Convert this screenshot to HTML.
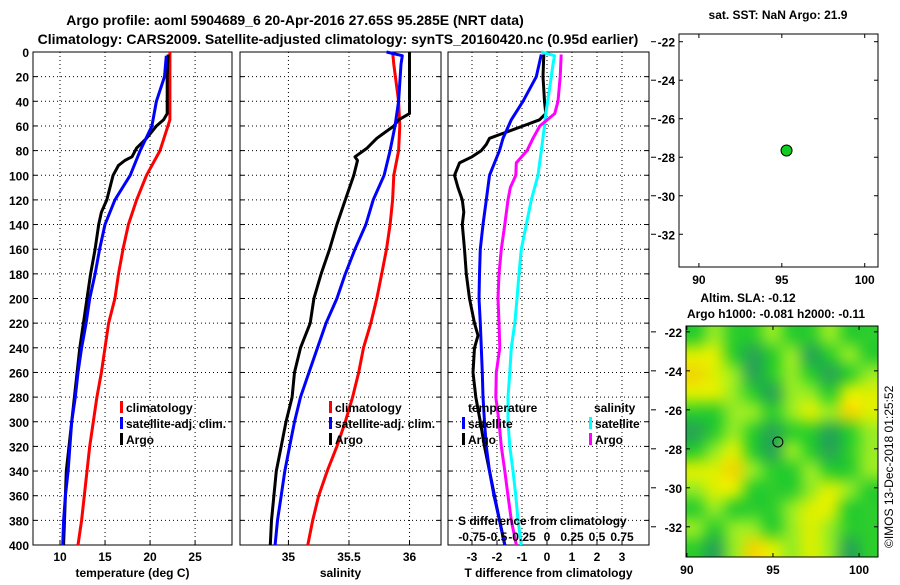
<!DOCTYPE html>
<html><head><meta charset="utf-8"><style>
body{margin:0;background:#fff;}
svg text{font-family:"Liberation Sans",Arial,sans-serif;}
.b{font-weight:bold;}
</style></head><body>
<svg id="c" width="900" height="580" viewBox="0 0 900 580" xmlns="http://www.w3.org/2000/svg">
<text class="b" x="295" y="25" font-size="14" text-anchor="middle">Argo profile: aoml 5904689_6 20-Apr-2016 27.65S 95.285E (NRT data)</text>
<text class="b" x="338" y="44" font-size="14" text-anchor="middle">Climatology: CARS2009. Satellite-adjusted climatology: synTS_20160420.nc (0.95d earlier)</text>
<g id="plots"></g>
<foreignObject x="686" y="326" width="192" height="231"><canvas id="sla" width="192" height="231" xmlns="http://www.w3.org/1999/xhtml" style="display:block"></canvas></foreignObject>
<g id="maps"></g>
<text x="0" y="0" font-size="12" transform="translate(893,548) rotate(-90)">©IMOS 13-Dec-2018 01:25:52</text>
</svg>
<script>
// ---- data ----
const depths=[0,20,40,60,80,100,120,140,160,180,200,220,240,260,280,300,320,340,360,380,400];
const tClimDepth=[0,55,80,100,120,140,160,180,200,220,240,260,280,300,320,340,360,380,400];
const tClim=[22.2,22.2,21.1,19.6,18.5,17.6,17.0,16.5,16.1,15.4,15.0,14.6,14.1,13.7,13.3,13.0,12.7,12.4,12.0];
const tSatDepth=[3,20,40,60,80,100,120,140,160,180,200,220,240,260,280,300,320,340,360,380,400];
const tSat=[21.8,21.6,20.7,20.2,18.9,17.8,16.1,15.0,14.4,13.9,13.3,12.9,12.4,12.0,11.7,11.3,11.1,10.9,10.6,10.4,10.3];
const tArgoDepth=[2,20,50,55,60,70,78,85,88,92,100,120,130,140,160,180,200,220,240,260,280,300,320,340,360,380,400];
const tArgo=[22.0,21.9,21.9,21.5,20.7,19.6,18.5,18.0,17.2,16.5,15.9,15.2,14.6,14.3,13.9,13.4,13.0,12.6,12.2,11.9,11.6,11.3,11.0,10.7,10.6,10.5,10.4];
const sClimDepth=[0,10,40,60,80,100,120,140,160,180,200,220,240,260,280,300,320,340,360,380,400];
const sClim=[35.86,35.87,35.91,35.92,35.91,35.87,35.86,35.84,35.81,35.77,35.73,35.68,35.62,35.58,35.53,35.47,35.40,35.32,35.25,35.20,35.16];
const sSatDepth=[0,3,10,40,60,80,100,120,140,160,180,200,220,240,260,280,300,320,340,360,380,400];
const sSat=[35.81,35.94,35.93,35.91,35.88,35.84,35.79,35.70,35.64,35.55,35.47,35.40,35.31,35.24,35.17,35.10,35.05,35.01,34.97,34.94,34.91,34.89];
const sArgoDepth=[0,50,55,60,65,70,78,85,88,100,120,140,160,180,200,220,240,260,280,300,320,340,360,380,400];
const sArgo=[36.0,36.0,35.91,35.87,35.80,35.73,35.65,35.55,35.57,35.54,35.47,35.40,35.34,35.27,35.21,35.18,35.10,35.05,35.03,34.98,34.94,34.90,34.88,34.86,34.85];
const dTSatDepth=[2,20,40,55,70,80,100,120,140,160,180,200,220,240,260,280,300,320,340,360,380,400];
const dTSat=[-0.23,-0.43,-0.96,-1.43,-1.76,-1.9,-2.3,-2.43,-2.56,-2.67,-2.7,-2.72,-2.67,-2.63,-2.59,-2.56,-2.5,-2.43,-2.3,-2.12,-1.9,-1.69];
const dTArgoDepth=[2,20,40,50,55,60,65,70,75,80,85,90,100,110,120,130,140,160,180,200,220,230,240,260,280,300,320,340,360,380,400];
const dTArgo=[-0.13,-0.16,-0.1,-0.05,-0.3,-0.96,-1.63,-2.3,-2.43,-2.63,-3.0,-3.5,-3.7,-3.56,-3.39,-3.33,-3.39,-3.3,-3.23,-3.1,-2.9,-2.76,-2.9,-2.96,-2.85,-2.67,-2.5,-2.3,-2.1,-1.9,-1.69];
const dSSatDepth=[0,3,10,30,50,60,80,100,120,140,160,180,200,220,240,260,280,300,320,340,360,380,400];
const dSSat=[-0.057,0.075,0.06,0.025,-0.012,-0.025,-0.057,-0.09,-0.157,-0.207,-0.257,-0.28,-0.3,-0.322,-0.357,-0.372,-0.39,-0.39,-0.372,-0.34,-0.312,-0.29,-0.257];
const dSArgoDepth=[2,20,40,50,60,70,80,90,100,110,120,140,160,180,200,220,240,260,280,300,320,340,360,380,400];
const dSArgo=[0.142,0.132,0.11,0.077,-0.072,-0.14,-0.2,-0.307,-0.312,-0.367,-0.39,-0.422,-0.457,-0.48,-0.49,-0.48,-0.472,-0.507,-0.512,-0.48,-0.457,-0.422,-0.39,-0.357,-0.307];
const tTicks=[10,15,20,25];
const sTicks=[35,35.5,36];
const dTTicks=[-3,-2,-1,0,1,2,3];
const dSTicks=["-0.75","-0.5","-0.25","0","0.25","0.5","0.75"];
const dSTickVals=[-0.75,-0.5,-0.25,0,0.25,0.5,0.75];
const latTicks=[-22,-24,-26,-28,-30,-32];
const lonTicks=[90,95,100];
const argoLon=95.285, argoLat=-27.65;
const slaGrid=[
[1,2,1,1,2,1,1,2,1,1],
[3,3,1,0,1,2,0,1,2,1],
[4,3,2,0,1,2,1,0,1,2],
[3,3,2,1,0,2,2,1,3,3],
[1,1,2,2,1,2,3,2,4,3],
[0,1,2,1,0,1,1,0,1,2],
[1,2,3,1,0,2,1,0,1,2],
[3,3,4,2,1,1,2,1,1,2],
[2,3,3,1,1,1,2,3,2,1],
[1,2,1,1,1,2,3,3,1,1],
[2,1,2,2,1,2,3,2,1,1],
[1,0,2,4,3,2,3,2,0,1]];
const slaColors=[[40,165,85],[45,205,45],[150,235,35],[220,240,0],[240,215,0]];
// ---- drawing ----
const NS="http://www.w3.org/2000/svg";
const plots=document.getElementById('plots'), maps=document.getElementById('maps');
function el(p,tag,a){const e=document.createElementNS(NS,tag);for(const k in a)e.setAttribute(k,a[k]);p.appendChild(e);return e;}
function txt(p,x,y,s,sz,anc,bold){const t=el(p,'text',{x:x,y:y,'font-size':sz,'text-anchor':anc||'middle'});if(bold!==false)t.setAttribute('class','b');t.textContent=s;return t;}
const Y0=52,Y1=545;
const yD=d=>Y0+(d/400)*(Y1-Y0);
function panel(name,x0,x1,v0,v1,ticks,labels,xlabel){
  const g=el(plots,'g',{});
  
  
  const sx=v=>x0+(v-v0)/(v1-v0)*(x1-x0);
  for(const d of depths){if(d>0&&d<400){const l=el(g,'line',{x1:x0,x2:x1,y1:yD(d),y2:yD(d),stroke:'#000','stroke-width':1,'stroke-dasharray':'1,3'});}
    el(g,'line',{x1:x0,x2:x0+4,y1:yD(d),y2:yD(d),stroke:'#000'});el(g,'line',{x1:x1-4,x2:x1,y1:yD(d),y2:yD(d),stroke:'#000'});}
  ticks.forEach((v,i)=>{const l=el(g,'line',{x1:sx(v),x2:sx(v),y1:Y0,y2:Y1,stroke:'#000','stroke-dasharray':'1,3'});
    el(g,'line',{x1:sx(v),x2:sx(v),y1:Y1-4,y2:Y1,stroke:'#000'});
    const t=txt(g,sx(v),Y1+16,labels[i],12);});
  const r=el(g,'rect',{x:x0,y:Y0,width:x1-x0,height:Y1-Y0,fill:'none',stroke:'#000'});
  
  const xl=txt(g,(x0+x1)/2,Y1+32,xlabel,12);
  return {g,sx};
}
function line(P,ds,vs,col,nm){const pts=ds.map((d,i)=>P.sx(vs[i]).toFixed(1)+','+yD(d).toFixed(1)).join(' ');
  const l=el(P.g,'polyline',{points:pts,fill:'none',stroke:col,'stroke-width':3,'stroke-linejoin':'round'});
  }
function legend(g,x,y,items){items.forEach((it,i)=>{el(g,'rect',{x:x,y:y+i*16-11,width:3,height:12,fill:it[0]});const t=txt(g,x+6,y+i*16,it[1],12,'start');});}
depths.forEach(d=>{const t=txt(plots,29,yD(d)+5,String(d),12,'end');});
const P1=panel('temperature-panel',33,232,7,29.1,tTicks,tTicks.map(String),'temperature (deg C)');
line(P1,tClimDepth,tClim,'#f00','temp-climatology-line');
line(P1,tArgoDepth,tArgo,'#000','temp-argo-line');
line(P1,tSatDepth,tSat,'#00f','temp-satellite-line');
legend(P1.g,120,412,[['#f00','climatology'],['#00f','satellite-adj. clim.'],['#000','Argo']]);
const P2=panel('salinity-panel',240,441,34.6,36.26,sTicks,sTicks.map(String),'salinity');
line(P2,sClimDepth,sClim,'#f00','sal-climatology-line');
line(P2,sArgoDepth,sArgo,'#000','sal-argo-line');
line(P2,sSatDepth,sSat,'#00f','sal-satellite-line');
legend(P2.g,329,412,[['#f00','climatology'],['#00f','satellite-adj. clim.'],['#000','Argo']]);
const P3=panel('difference-panel',448,649,-3.96,4.08,dTTicks,dTTicks.map(String),'T difference from climatology');
line(P3,dTArgoDepth,dTArgo,'#000','dT-argo-line');
line(P3,dTSatDepth,dTSat,'#00f','dT-satellite-line');
line(P3,dSSatDepth,dSSat.map(v=>v*4),'#0ff','dS-satellite-line');
line(P3,dSArgoDepth,dSArgo.map(v=>v*4),'#f0f','dS-argo-line');
txt(P3.g,468,412,'temperature',12,'start');
txt(P3.g,594,412,'salinity',12,'start');
legend(P3.g,462,428,[['#00f','satellite'],['#000','Argo']]);
legend(P3.g,589,428,[['#0ff','satellite'],['#f0f','Argo']]);
const st=txt(P3.g,458,525,'S difference from climatology',12,'start');
dSTickVals.forEach((v,i)=>{const t=txt(P3.g,P3.sx(v*4),541,dSTicks[i],12);});
function map(name,x0,x1,y0,y1,lon0,lon1,lat0,lat1){
  const g=el(maps,'g',{});
  
  
  const sx=v=>x0+(v-lon0)/(lon1-lon0)*(x1-x0), sy=v=>y0+(lat0-v)/(lat0-lat1)*(y1-y0);
  el(g,'rect',{x:x0,y:y0,width:x1-x0,height:y1-y0,fill:'none',stroke:'#000'});
  latTicks.forEach(v=>{el(g,'line',{x1:x0,x2:x0+4,y1:sy(v),y2:sy(v),stroke:'#000'});el(g,'line',{x1:x1-4,x2:x1,y1:sy(v),y2:sy(v),stroke:'#000'});
    el(g,'line',{x1:651,x2:656,y1:sy(v),y2:sy(v),stroke:'#000'});
    const t=txt(g,x0-4,sy(v)+5,String(v),12,'end');});
  lonTicks.forEach(v=>{el(g,'line',{x1:sx(v),x2:sx(v),y1:y1-4,y2:y1,stroke:'#000'});el(g,'line',{x1:sx(v),x2:sx(v),y1:y0,y2:y0+4,stroke:'#000'});
    const t=txt(g,sx(v),y1+17,String(v),12);});
  return {g,sx,sy};
}
const M1=map('sst-map',679,878,34,267,88.8,100.8,-21.6,-33.7);
const dot=el(M1.g,'circle',{cx:M1.sx(argoLon),cy:M1.sy(argoLat),r:5.5,fill:'#11cc22',stroke:'#000'});

txt(M1.g,778,19,'sat. SST: NaN Argo: 21.9',12);
const M2=map('sla-map',686,878,326,557,89.95,101.1,-21.7,-33.55);
const c2=el(M2.g,'circle',{cx:M2.sx(argoLon),cy:M2.sy(argoLat),r:5,fill:'none',stroke:'#000'});

txt(M2.g,748,302,'Altim. SLA: -0.12',12);
txt(M2.g,776,318,'Argo h1000: -0.081 h2000: -0.11',12);
const sm=document.createElement('canvas');sm.width=slaGrid[0].length;sm.height=slaGrid.length;
const sctx=sm.getContext('2d');const img=sctx.createImageData(sm.width,sm.height);
slaGrid.forEach((row,r)=>row.forEach((v,c)=>{const k=(r*sm.width+c)*4,col=slaColors[v];img.data[k]=col[0];img.data[k+1]=col[1];img.data[k+2]=col[2];img.data[k+3]=255;}));
sctx.putImageData(img,0,0);
const cv=document.getElementById('sla');


const ctx=cv.getContext('2d');ctx.imageSmoothingEnabled=true;ctx.imageSmoothingQuality='high';
ctx.drawImage(sm,0,0,cv.width,cv.height);
</script>
</body></html>
